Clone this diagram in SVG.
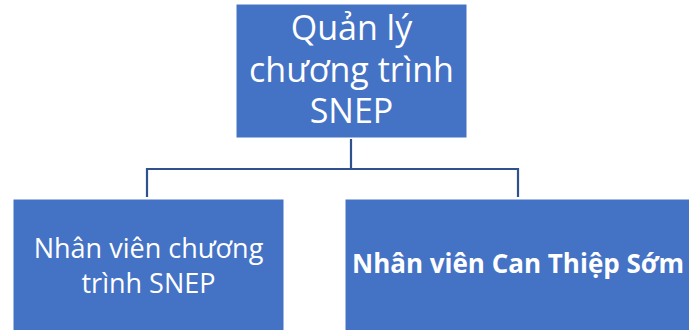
<svg xmlns="http://www.w3.org/2000/svg" width="689" height="330" viewBox="0 0 689 330">
<style>
.box{fill:#4472C4;stroke:#ffffff;stroke-width:1}
.t{fill:#ffffff;font-family:"Open Sans","Noto Sans","DejaVu Sans",sans-serif;text-anchor:middle}
.conn{fill:none;stroke:#2F528F;stroke-width:2.2}
</style>
<rect width="689" height="330" fill="#ffffff"/>
<g id="connectors">
<path class="conn" d="M351,139 V169 M147,169 H518 M147,168 V197 M518,168 V197"/>
</g>
<g id="top">
<rect class="box" x="236" y="4" width="231" height="134"/>
<text class="t" font-size="34"><tspan x="351.5" y="40">Quản lý</tspan><tspan x="351.5" y="82">chương trình</tspan><tspan x="351.5" y="123">SNEP</tspan></text>
</g>
<g id="left">
<rect class="box" x="13" y="199" width="271" height="140"/>
<text class="t" font-size="27"><tspan x="148.5" y="258">Nhân viên chương</tspan><tspan x="148.5" y="293">trình SNEP</tspan></text>
</g>
<g id="right">
<rect class="box" x="345" y="199" width="346" height="140"/>
<text class="t" font-size="26" font-weight="bold" x="518" y="273">Nhân viên Can Thiệp Sớm</text>
</g>
</svg>
